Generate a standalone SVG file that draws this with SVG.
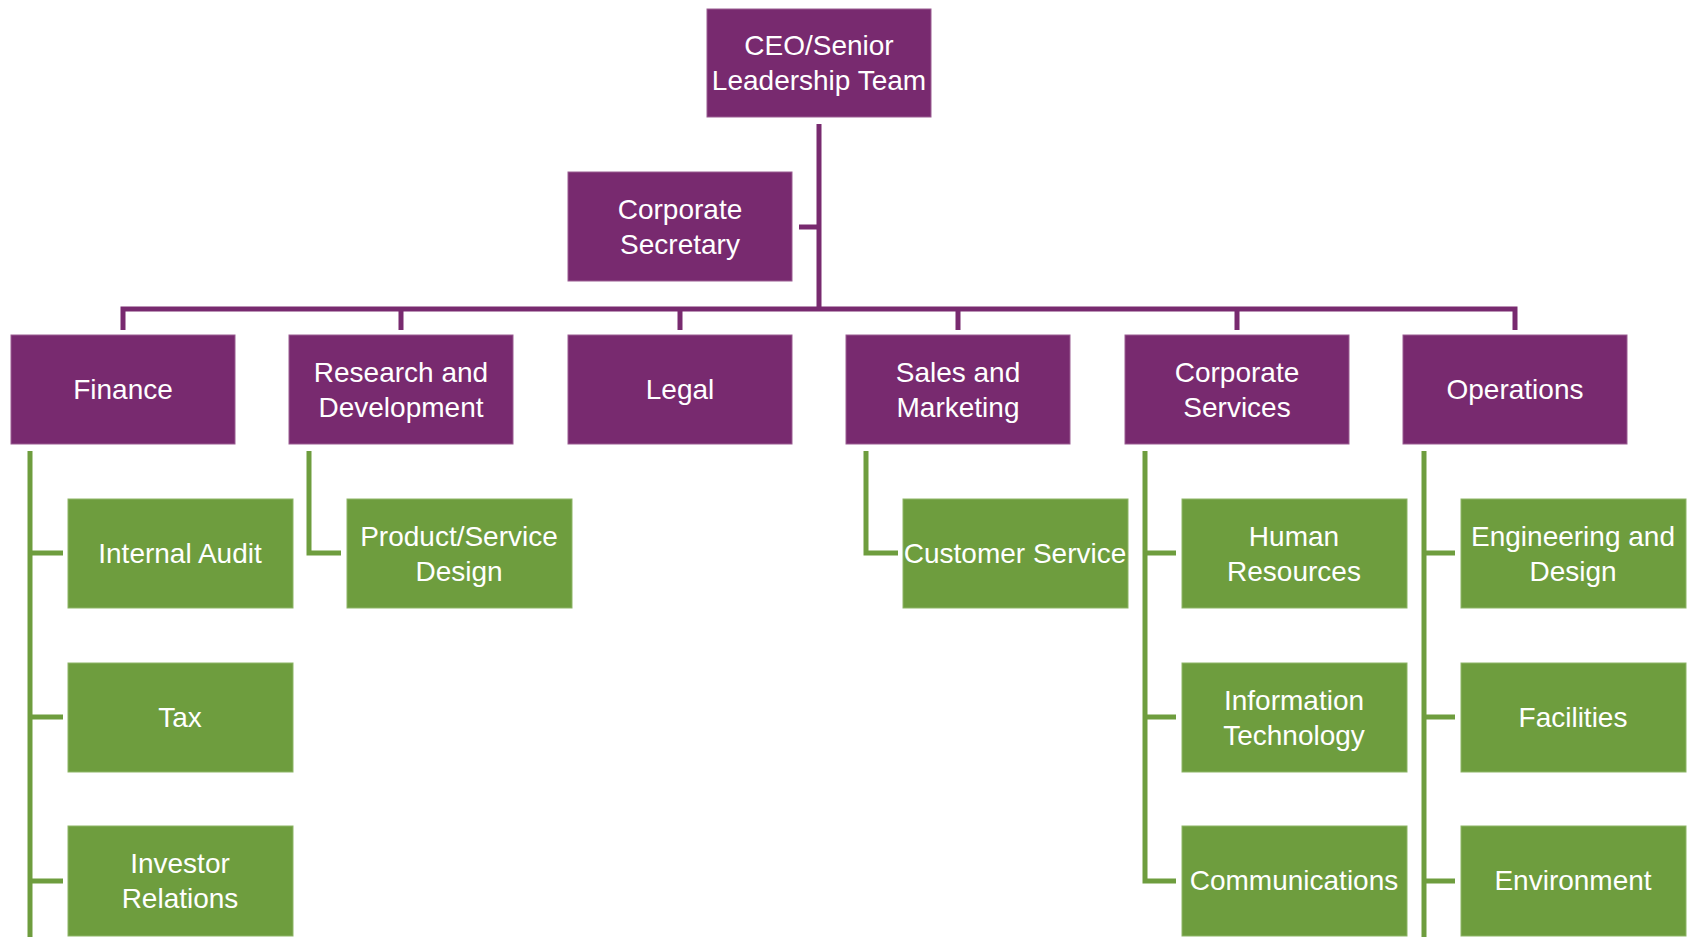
<svg xmlns="http://www.w3.org/2000/svg" width="1690" height="937" viewBox="0 0 1690 937">
<style>
.p{fill:#782A6F;stroke:#9A5C92;stroke-width:1}
.g{fill:#6E9D3E;stroke:#8DB566;stroke-width:1}
text{font-family:"Liberation Sans",Arial,sans-serif;font-size:28px;fill:#FFFFFF;text-anchor:middle}
.cp{fill:none;stroke:#782A6F;stroke-width:5}
.cg{fill:none;stroke:#6E9D3E;stroke-width:5}
</style>
<rect width="1690" height="937" fill="#FFFFFF"/>
<g id="connectors">
<path class="cp" d="M819 124 V309 M799 227 H819 M123 330 V309 H1515 V330 M401 309 V330 M680 309 V330 M958 309 V330 M1237 309 V330"/>
<path class="cg" d="M30 451 V937 M30 553 H63 M30 717 H63 M30 881 H63"/>
<path class="cg" d="M309 451 V553 H341"/>
<path class="cg" d="M866 451 V553 H898"/>
<path class="cg" d="M1145 451 V881 H1176 M1145 553 H1176 M1145 717 H1176"/>
<path class="cg" d="M1424 451 V937 M1424 553 H1455 M1424 717 H1455 M1424 881 H1455"/>
</g>
<g id="ceo"><rect class="p" x="707" y="9" width="224" height="108"/><text x="819" y="55">CEO/Senior</text><text x="819" y="90">Leadership Team</text></g>
<g id="secretary"><rect class="p" x="568" y="172" width="224" height="109"/><text x="680" y="219">Corporate</text><text x="680" y="254">Secretary</text></g>
<g id="finance"><rect class="p" x="11" y="335" width="224" height="109"/><text x="123" y="399">Finance</text></g>
<g id="rnd"><rect class="p" x="289" y="335" width="224" height="109"/><text x="401" y="382">Research and</text><text x="401" y="417">Development</text></g>
<g id="legal"><rect class="p" x="568" y="335" width="224" height="109"/><text x="680" y="399">Legal</text></g>
<g id="sales"><rect class="p" x="846" y="335" width="224" height="109"/><text x="958" y="382">Sales and</text><text x="958" y="417">Marketing</text></g>
<g id="corpservices"><rect class="p" x="1125" y="335" width="224" height="109"/><text x="1237" y="382">Corporate</text><text x="1237" y="417">Services</text></g>
<g id="operations"><rect class="p" x="1403" y="335" width="224" height="109"/><text x="1515" y="399">Operations</text></g>
<g id="audit"><rect class="g" x="68" y="499" width="225" height="109"/><text x="180" y="563">Internal Audit</text></g>
<g id="tax"><rect class="g" x="68" y="663" width="225" height="109"/><text x="180" y="727">Tax</text></g>
<g id="investor"><rect class="g" x="68" y="826" width="225" height="110"/><text x="180" y="873">Investor</text><text x="180" y="908">Relations</text></g>
<g id="product"><rect class="g" x="347" y="499" width="225" height="109"/><text x="459" y="546">Product/Service</text><text x="459" y="581">Design</text></g>
<g id="customer"><rect class="g" x="903" y="499" width="225" height="109"/><text x="1015" y="563">Customer Service</text></g>
<g id="hr"><rect class="g" x="1182" y="499" width="225" height="109"/><text x="1294" y="546">Human</text><text x="1294" y="581">Resources</text></g>
<g id="it"><rect class="g" x="1182" y="663" width="225" height="109"/><text x="1294" y="710">Information</text><text x="1294" y="745">Technology</text></g>
<g id="comms"><rect class="g" x="1182" y="826" width="225" height="110"/><text x="1294" y="890">Communications</text></g>
<g id="engineering"><rect class="g" x="1461" y="499" width="225" height="109"/><text x="1573" y="546">Engineering and</text><text x="1573" y="581">Design</text></g>
<g id="facilities"><rect class="g" x="1461" y="663" width="225" height="109"/><text x="1573" y="727">Facilities</text></g>
<g id="environment"><rect class="g" x="1461" y="826" width="225" height="110"/><text x="1573" y="890">Environment</text></g>
</svg>
